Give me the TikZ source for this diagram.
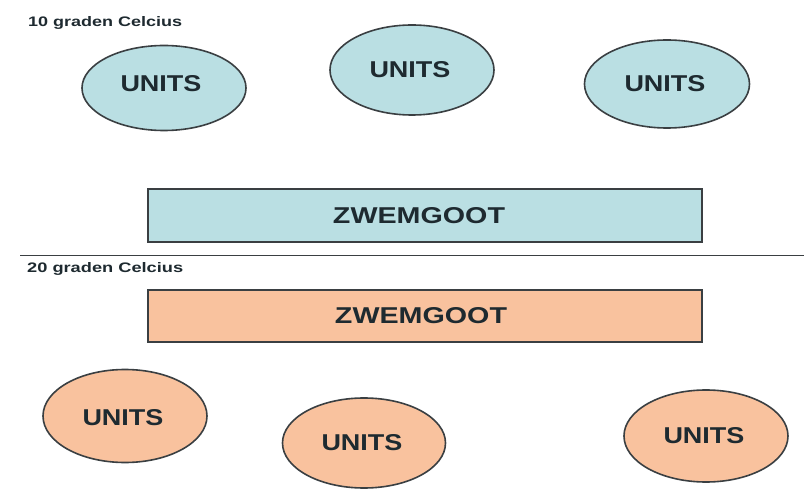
\documentclass[tikz,border=0pt]{standalone}
\usepackage{fontspec}
\usepackage{graphicx}
\usetikzlibrary{shapes.geometric}
\setmainfont{Liberation Sans}
\definecolor{coolfill}{HTML}{BADFE3}
\definecolor{warmfill}{HTML}{F9C29E}
\definecolor{edge}{HTML}{3A3F42}
\definecolor{ink}{HTML}{1E2A30}
\tikzset{
  unitcold/.style={ellipse, draw=edge, line width=1.6pt, fill=coolfill, inner sep=0pt},
  unitwarm/.style={ellipse, draw=edge, line width=1.6pt, fill=warmfill, inner sep=0pt},
  gootcold/.style={rectangle, draw=edge, line width=1.6pt, fill=coolfill, inner sep=0pt},
  gootwarm/.style={rectangle, draw=edge, line width=1.6pt, fill=warmfill, inner sep=0pt},
  lbl/.style={inner sep=0pt, anchor=west, text=ink},
}
\newcommand{\unitstext}{\resizebox{81pt}{16pt}{\bfseries UNITS}}
\newcommand{\gootext}{\resizebox{172pt}{16pt}{\bfseries ZWEMGOOT}}
\begin{document}
\begin{tikzpicture}[x=1pt,y=-1pt]
\useasboundingbox (0,0) rectangle (804,489);
\fill[white] (0,0) rectangle (804,489);
% labels
\node[lbl] (t10) at (28,23) {\resizebox{154pt}{10pt}{\bfseries 10 graden Celcius}};
\node[lbl] (t20) at (27,269) {\resizebox{156pt}{10pt}{\bfseries 20 graden Celcius}};
% top ellipses
\node[unitcold, minimum width=164pt, minimum height=85pt] (e1) at (164,88) {};
\node[text=ink, inner sep=0pt] (e1t) at (161,84) {\unitstext};
\node[unitcold, minimum width=164pt, minimum height=90pt] (e2) at (412,70) {};
\node[text=ink, inner sep=0pt] (e2t) at (410,70) {\unitstext};
\node[unitcold, minimum width=165pt, minimum height=88pt] (e3) at (667,84) {};
\node[text=ink, inner sep=0pt] (e3t) at (665,84) {\unitstext};
% top trough
\node[gootcold, minimum width=554pt, minimum height=53pt] (r1) at (425,215.5) {};
\node[text=ink, inner sep=0pt] (r1t) at (419,216) {\gootext};
% separator
\coordinate (sl) at (20,255.5);
\coordinate (sr) at (804,255.5);
\draw[edge, line width=1.8pt] (sl) -- (sr);
% bottom trough
\node[gootwarm, minimum width=554pt, minimum height=52pt] (r2) at (425,316) {};
\node[text=ink, inner sep=0pt] (r2t) at (421,316) {\gootext};
% bottom ellipses
\node[unitwarm, minimum width=164pt, minimum height=93pt] (b1) at (125,416) {};
\node[text=ink, inner sep=0pt] (b1t) at (123,418) {\unitstext};
\node[unitwarm, minimum width=163pt, minimum height=90pt] (b2) at (364,443) {};
\node[text=ink, inner sep=0pt] (b2t) at (362,443) {\unitstext};
\node[unitwarm, minimum width=164pt, minimum height=92pt] (b3) at (706,436) {};
\node[text=ink, inner sep=0pt] (b3t) at (704,436) {\unitstext};
\end{tikzpicture}
\end{document}
